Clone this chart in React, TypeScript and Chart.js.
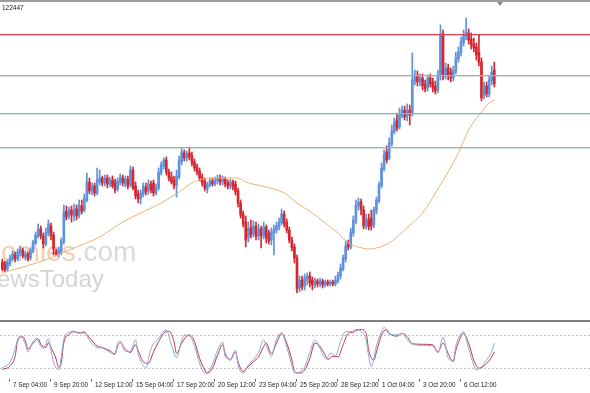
import React, { useEffect, useRef } from "react";
import { Chart, registerables } from "chart.js";

Chart.register(...registerables);

// ---- price data (4H candles, price points) ----
const candleOpen = [
  68, 67, 61, 66, 71, 75, 71, 77, 80, 73,
  76, 72, 79, 87, 94, 101, 94, 86, 97, 104,
  95, 78, 76, 78, 88, 119, 114, 120, 114, 121,
  115, 124, 120, 130, 148, 139, 144, 137, 148, 152,
  147, 152, 146, 150, 147, 141, 148, 152, 146, 151,
  145, 160, 144, 136, 131, 136, 143, 139, 146, 147,
  137, 142, 157, 164, 170, 158, 153, 150, 145, 153,
  168, 177, 172, 177, 174, 168, 163, 159, 153, 149,
  141, 145, 149, 146, 149, 152, 148, 151, 147, 144,
  148, 146, 139, 127, 116, 108, 92, 102, 96, 104,
  94, 101, 94, 103, 97, 90, 97, 100, 103, 107,
  116, 108, 100, 90, 83, 72, 42, 50, 44, 51,
  54, 50, 45, 49, 46, 49, 45, 48, 46, 48,
  46, 49, 54, 61, 71, 87, 83, 97, 109, 124,
  128, 120, 104, 111, 112, 105, 119, 129, 144, 161,
  178, 172, 186, 198, 210, 203, 215, 220, 214, 220,
  217, 248, 255, 248, 252, 246, 242, 252, 248, 244,
  240, 254, 296, 254, 262, 258, 252, 259, 271, 277,
  287, 294, 297, 291, 286, 283, 278, 268, 235, 244,
  236, 249, 260,
];
const candleHigh = [
  71, 69, 70, 75, 79, 78, 81, 84, 82, 79,
  78, 82, 90, 98, 106, 104, 97, 102, 110, 107,
  98, 81, 83, 92, 125, 124, 123, 124, 126, 125,
  130, 130, 136, 157, 152, 147, 147, 162, 160, 154,
  155, 155, 153, 154, 151, 152, 156, 155, 154, 154,
  164, 163, 148, 140, 140, 147, 147, 150, 149, 150,
  146, 162, 168, 172, 173, 161, 158, 154, 160, 174,
  182, 180, 179, 183, 178, 171, 166, 162, 156, 152,
  148, 152, 152, 153, 155, 155, 154, 153, 150, 151,
  150, 149, 142, 130, 119, 114, 108, 110, 109, 108,
  106, 104, 108, 105, 100, 102, 105, 108, 112, 121,
  119, 111, 103, 93, 86, 75, 54, 54, 56, 57,
  58, 53, 52, 51, 52, 51, 50, 50, 50, 50,
  54, 58, 66, 75, 89, 90, 102, 114, 130, 132,
  131, 124, 116, 116, 120, 123, 133, 148, 167, 180,
  184, 192, 205, 212, 217, 222, 224, 224, 226, 225,
  277, 260, 259, 256, 256, 250, 255, 256, 252, 249,
  260, 305, 300, 267, 266, 262, 264, 278, 283, 293,
  300, 312, 301, 297, 292, 287, 295, 272, 248, 248,
  254, 264, 268,
];
const candleLow = [
  59, 58, 59, 64, 69, 68, 69, 74, 72, 70,
  69, 70, 77, 85, 92, 91, 82, 84, 94, 90,
  75, 74, 73, 75, 86, 110, 111, 108, 109, 110,
  112, 116, 118, 128, 136, 135, 134, 135, 145, 144,
  144, 142, 143, 142, 137, 139, 145, 144, 143, 141,
  143, 140, 131, 127, 126, 133, 135, 136, 137, 134,
  135, 140, 155, 161, 155, 149, 146, 141, 133, 151,
  165, 169, 169, 170, 164, 159, 155, 149, 144, 139,
  137, 143, 144, 144, 146, 145, 145, 143, 141, 141,
  140, 135, 123, 112, 103, 83, 88, 92, 93, 90,
  90, 82, 91, 87, 86, 85, 75, 97, 100, 105,
  103, 97, 87, 79, 67, 37, 38, 40, 40, 45,
  43, 40, 42, 43, 43, 42, 43, 44, 44, 44,
  44, 47, 51, 59, 68, 80, 81, 94, 106, 120,
  115, 101, 101, 100, 100, 102, 116, 127, 142, 159,
  167, 170, 184, 196, 199, 201, 212, 210, 209, 205,
  214, 245, 244, 244, 240, 238, 239, 243, 238, 236,
  237, 250, 250, 251, 250, 248, 249, 256, 268, 274,
  284, 290, 286, 281, 278, 270, 264, 229, 231, 233,
  233, 245, 243,
];
const candleClose = [
  61, 60, 68, 72, 76, 71, 78, 80, 74, 76,
  71, 80, 88, 95, 101, 94, 86, 98, 106, 94,
  81, 76, 80, 89, 118, 113, 120, 115, 121, 114,
  125, 119, 132, 148, 139, 144, 137, 150, 152, 147,
  152, 146, 150, 144, 140, 149, 153, 147, 151, 144,
  160, 142, 134, 131, 137, 144, 138, 146, 140, 137,
  143, 158, 165, 170, 158, 152, 148, 144, 154, 170,
  178, 172, 176, 173, 167, 162, 158, 152, 147, 142,
  146, 149, 146, 150, 152, 148, 151, 146, 144, 148,
  143, 138, 127, 115, 106, 90, 102, 95, 104, 94,
  101, 94, 103, 92, 89, 98, 101, 104, 108, 116,
  106, 100, 90, 82, 72, 41, 50, 43, 52, 54,
  47, 45, 49, 46, 49, 45, 48, 46, 48, 46,
  50, 55, 62, 72, 84, 83, 98, 110, 125, 128,
  120, 104, 111, 103, 104, 120, 130, 145, 162, 175,
  170, 187, 199, 208, 202, 216, 220, 213, 220, 215,
  250, 255, 248, 252, 244, 241, 252, 246, 242, 239,
  255, 296, 253, 262, 255, 252, 260, 272, 278, 288,
  295, 298, 290, 285, 282, 275, 268, 232, 244, 236,
  250, 258, 246,
];

// moving average (read at selected bars)
const maIndex = [0, 19, 26, 38, 47, 54, 62, 69, 74, 78, 85, 92, 95, 103, 110, 115, 121, 126, 131, 135, 139, 143, 146, 151, 157, 160, 164, 170, 178, 182, 187, 190, 192];
const maValue = [57, 72, 80, 93, 108, 117, 127, 138, 147, 151, 152, 152, 148, 143, 137, 127, 117, 107, 97, 87, 83, 81, 82, 87, 100, 107, 117, 141, 177, 200, 218, 227, 230];

// horizontal levels
const levelValues = [296, 255, 217, 183];
const levelColors = ["#d4465a", "#ababab", "#7dbfa8", "#7dbfa8"];

// stochastic %K / %D
const stochKIndex = [0, 3, 5, 6, 7, 9, 10, 12, 13, 15, 16, 18, 19, 20, 22, 23, 24, 26, 28, 30, 32, 34, 37, 39, 42, 44, 45, 46, 48, 50, 52, 53, 55, 56, 58, 61, 63, 64, 66, 68, 70, 71, 73, 75, 77, 79, 80, 82, 84, 86, 87, 89, 91, 92, 94, 96, 98, 100, 102, 103, 105, 107, 109, 111, 113, 114, 116, 118, 120, 122, 124, 126, 127, 128, 130, 132, 134, 136, 138, 140, 142, 143, 144, 146, 148, 149, 151, 154, 156, 158, 160, 164, 168, 170, 172, 174, 176, 177, 179, 180, 182, 184, 185, 187, 189, 191, 192];
const stochKValue = [20, 30, 55, 72, 78, 63, 49, 68, 74, 60, 55, 73, 52, 30, 16, 40, 72, 85, 87, 83, 87, 70, 57, 56, 48, 44, 66, 69, 50, 50, 71, 45, 24, 20, 55, 74, 87, 89, 62, 38, 70, 80, 78, 60, 28, 10, 11, 26, 52, 67, 40, 36, 52, 25, 10, 25, 35, 48, 71, 60, 41, 72, 84, 58, 24, 10, 12, 22, 48, 71, 55, 38, 40, 47, 42, 68, 86, 86, 90, 87, 70, 40, 22, 60, 86, 94, 82, 80, 83, 72, 63, 61, 60, 47, 76, 38, 33, 60, 82, 86, 55, 25, 16, 22, 35, 50, 65];
const stochDIndex = [0, 3, 5, 6, 8, 9, 10, 12, 14, 15, 17, 18, 19, 21, 22, 23, 24, 26, 28, 30, 32, 34, 37, 39, 42, 44, 45, 46, 48, 50, 52, 53, 55, 57, 59, 61, 63, 65, 67, 68, 70, 72, 73, 75, 77, 79, 80, 82, 84, 86, 87, 89, 91, 92, 94, 96, 98, 100, 102, 103, 105, 107, 109, 111, 113, 114, 116, 118, 120, 122, 124, 126, 127, 129, 131, 133, 135, 137, 138, 140, 142, 143, 145, 146, 148, 150, 151, 154, 156, 158, 160, 164, 168, 170, 172, 174, 176, 177, 179, 180, 182, 184, 186, 189, 191, 192];
const stochDValue = [17, 23, 41, 69, 77, 69, 54, 65, 73, 63, 57, 66, 57, 36, 20, 29, 66, 81, 86, 84, 84, 75, 60, 57, 51, 45, 60, 66, 54, 48, 62, 52, 31, 28, 49, 68, 83, 87, 68, 46, 65, 78, 80, 68, 37, 16, 10, 19, 43, 62, 46, 34, 49, 31, 13, 22, 31, 40, 59, 65, 46, 65, 83, 65, 34, 14, 10, 16, 37, 65, 59, 43, 35, 41, 40, 62, 83, 85, 88, 90, 83, 52, 34, 49, 80, 90, 83, 78, 83, 77, 64, 63, 62, 49, 65, 46, 31, 52, 77, 83, 65, 34, 19, 28, 40, 49];
const stochLevels = [20, 80];

// time axis
const timeLabelIndex = [3, 19, 35, 51, 67, 83, 99, 115, 131, 147, 163, 179];
const timeLabels = ["7 Sep 04:00", "9 Sep 20:00", "12 Sep 12:00", "15 Sep 04:00", "17 Sep 20:00", "20 Sep 12:00", "23 Sep 04:00", "25 Sep 20:00", "28 Sep 12:00", "1 Oct 04:00", "3 Oct 20:00", "6 Oct 12:00"];

const headerText = "122447";
const watermarkA = "omies";
const watermarkB = ".com";
const watermarkC = "ewsToday";

const X_MIN = -0.9;
const X_MAX = 229.35;
const UP = "#5e92dc";
const DOWN = "#d8262e";
const FONT = '"Liberation Sans", Arial, sans-serif';

export default function App() {
  const mainRef = useRef<HTMLCanvasElement>(null);
  const stochRef = useRef<HTMLCanvasElement>(null);

  useEffect(() => {
    document.body.style.margin = "0";
    const idx = candleOpen.map((_, i) => i);
    const colorFn = (c: any) =>
      candleClose[c.dataIndex] >= candleOpen[c.dataIndex] ? UP : DOWN;

    const mainPlugin = {
      id: "mainDecor",
      beforeDatasetsDraw(chart: any) {
        const { ctx } = chart;
        ctx.save();
        ctx.textBaseline = "alphabetic";
        ctx.font = `28px ${FONT}`;
        ctx.fillStyle = "#f6cdb2";
        ctx.fillText(watermarkA, 1, 261);
        const w = ctx.measureText(watermarkA).width;
        ctx.fillStyle = "#dadada";
        ctx.fillText(watermarkB, 1 + w, 261);
        ctx.font = `24px ${FONT}`;
        ctx.fillStyle = "#d4d4d4";
        ctx.fillText(watermarkC, -3, 287);
        ctx.restore();
      },
      afterDatasetsDraw(chart: any) {
        const { ctx, chartArea, scales } = chart;
        levelValues.forEach((v, k) => {
          const y = Math.round(scales.y.getPixelForValue(v));
          ctx.save();
          ctx.fillStyle = levelColors[k];
          ctx.fillRect(chartArea.left, y, chartArea.right - chartArea.left, 1);
          ctx.globalAlpha = 0.35;
          ctx.fillRect(chartArea.left, y + 1, chartArea.right - chartArea.left, 1);
          ctx.restore();
        });
      },
      afterDraw(chart: any) {
        const { ctx, width } = chart;
        ctx.save();
        ctx.fillStyle = "#9c9c9c";
        ctx.fillRect(0, 0, width, 2);
        ctx.fillStyle = "#8a8a8a";
        ctx.beginPath();
        ctx.moveTo(497, 2);
        ctx.lineTo(503, 2);
        ctx.lineTo(500, 6);
        ctx.closePath();
        ctx.fill();
        ctx.font = `6.5px ${FONT}`;
        ctx.fillStyle = "#222";
        ctx.textBaseline = "alphabetic";
        ctx.fillText(headerText, 2, 10);
        ctx.restore();
      },
    };

    const main = new Chart(mainRef.current as HTMLCanvasElement, {
      type: "bar",
      data: {
        datasets: [
          {
            type: "line",
            data: maIndex.map((x, k) => ({ x, y: maValue[k] })),
            borderColor: "#efb277",
            borderWidth: 1,
            pointRadius: 0,
            cubicInterpolationMode: "monotone",
            order: -1,
          } as any,
          {
            data: idx.map((i) => ({ x: i, y: [candleOpen[i], candleClose[i]] })),
            backgroundColor: colorFn,
            barThickness: 2,
            grouped: false,
            order: 0,
          } as any,
          {
            data: idx.map((i) => ({ x: i, y: [candleLow[i], candleHigh[i]] })),
            backgroundColor: colorFn,
            barThickness: 1,
            grouped: false,
            order: 1,
          } as any,
        ],
      },
      options: {
        responsive: false,
        animation: false,
        devicePixelRatio: 1,
        layout: { padding: 0, autoPadding: false },
        plugins: { legend: { display: false }, tooltip: { enabled: false } },
        scales: {
          x: { type: "linear", min: X_MIN, max: X_MAX, bounds: "data", offset: false, display: false },
          y: { type: "linear", min: 10, max: 330, display: false },
        },
      } as any,
      plugins: [mainPlugin],
    });

    const stochPlugin = {
      id: "stochDecor",
      beforeDatasetsDraw(chart: any) {
        const { ctx, chartArea, scales, width } = chart;
        ctx.save();
        ctx.fillStyle = "#7e7e7e";
        ctx.fillRect(0, 0, width, 2);
        ctx.strokeStyle = "#c4c4c4";
        ctx.lineWidth = 1;
        ctx.setLineDash([2, 2]);
        stochLevels.forEach((v) => {
          const y = Math.round(scales.y.getPixelForValue(v)) + 0.5;
          ctx.beginPath();
          ctx.moveTo(chartArea.left, y);
          ctx.lineTo(chartArea.right, y);
          ctx.stroke();
        });
        ctx.restore();
      },
    };

    const stoch = new Chart(stochRef.current as HTMLCanvasElement, {
      type: "line",
      data: {
        datasets: [
          {
            data: stochKIndex.map((x, k) => ({ x, y: stochKValue[k] })),
            borderColor: "#8aa9d6",
            borderWidth: 1,
            pointRadius: 0,
            cubicInterpolationMode: "monotone",
          },
          {
            data: stochDIndex.map((x, k) => ({ x, y: stochDValue[k] })),
            borderColor: "#c2344a",
            borderWidth: 1,
            pointRadius: 0,
            cubicInterpolationMode: "monotone",
          },
        ],
      },
      options: {
        responsive: false,
        animation: false,
        devicePixelRatio: 1,
        layout: { padding: { top: 4.1, left: 0, right: 0, bottom: 0 }, autoPadding: false },
        plugins: { legend: { display: false }, tooltip: { enabled: false } },
        scales: {
          x: {
            type: "linear",
            min: X_MIN,
            max: X_MAX,
            bounds: "data",
            offset: false,
            afterBuildTicks: (s: any) => {
              s.ticks = timeLabelIndex.map((v) => ({ value: v }));
            },
            afterFit: (s: any) => {
              s.height = 14.4;
            },
            grid: { display: true, drawOnChartArea: false, drawTicks: true, tickLength: 3, color: "#6a6a6a" },
            border: { display: false },
            ticks: {
              autoSkip: false,
              maxRotation: 0,
              minRotation: 0,
              align: "start",
              labelOffset: 3,
              padding: 0.3,
              color: "#222",
              font: { family: FONT, size: 6.3 },
              callback: (v: any) => {
                const k = timeLabelIndex.indexOf(Number(v));
                return k >= 0 ? timeLabels[k] : "";
              },
            },
          },
          y: { type: "linear", min: 0, max: 100, display: false },
        },
      } as any,
      plugins: [stochPlugin],
    });

    return () => {
      main.destroy();
      stoch.destroy();
    };
  }, []);

  return (
    <div style={{ width: 590, height: 393, background: "#fff", overflow: "hidden" }}>
      <canvas ref={mainRef} width={590} height={320} style={{ display: "block" }} />
      <canvas ref={stochRef} width={590} height={73} style={{ display: "block" }} />
    </div>
  );
}
